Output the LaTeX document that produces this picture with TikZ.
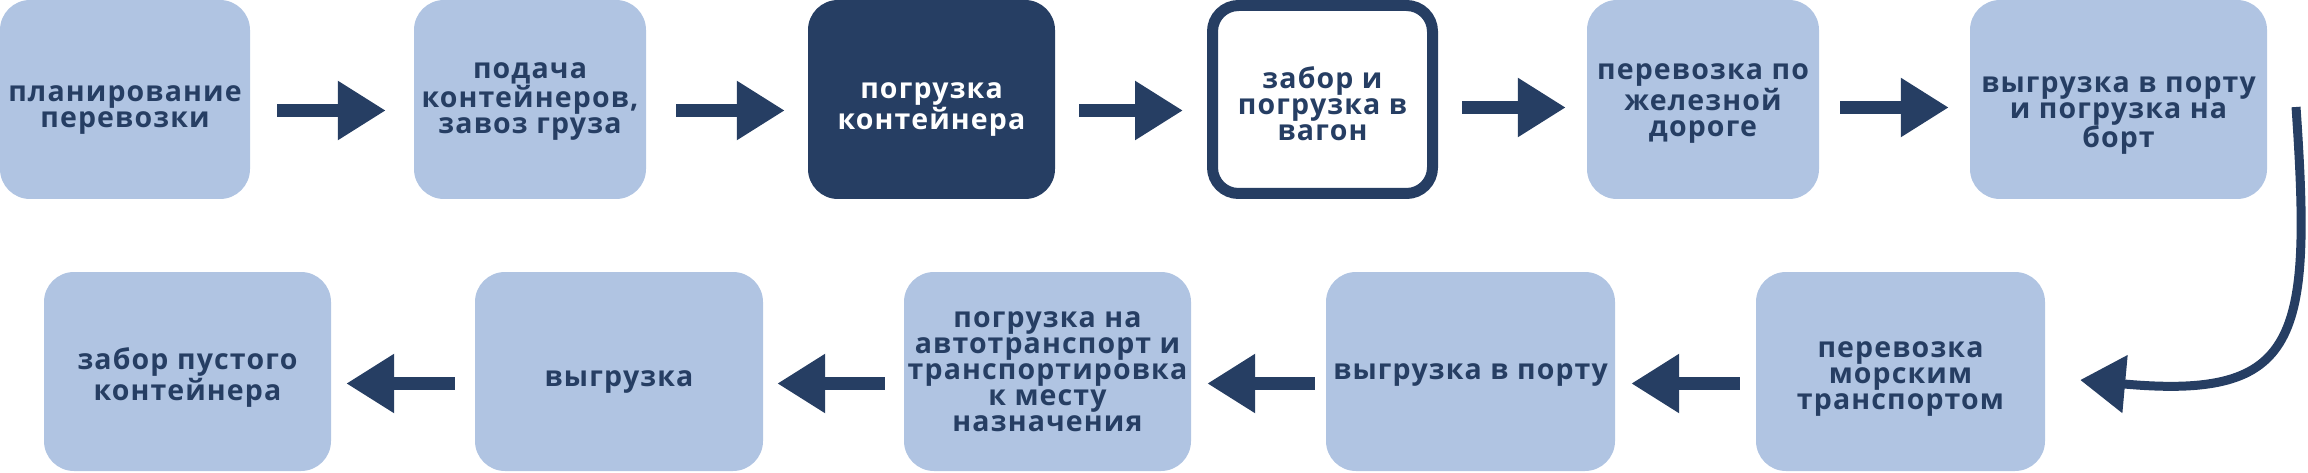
\documentclass[tikz,border=0pt]{standalone}
\usepackage{fontspec}
\setmainfont{Open Sans}[LetterSpace=4]
\usetikzlibrary{arrows.meta,calc}
\definecolor{lightbox}{RGB}{176,196,226}
\definecolor{navy}{RGB}{38,62,99}
\begin{document}
\begin{tikzpicture}[x=1pt,y=-1pt,
  box/.style={rounded corners=30pt, fill=lightbox, minimum height=199pt, inner sep=0pt},
  darkbox/.style={box, fill=navy},
  outbox/.style={box, fill=white, draw=navy, line width=11pt, minimum height=188pt, rounded corners=26pt},
  txt/.style={text=navy, align=center, inner sep=0pt, font=\fontsize{28.5}{26}\selectfont\bfseries},
  blk/.style={draw=navy, line width=13pt, -{Triangle[length=48pt,width=56pt]}},
  curv/.style={draw=navy, line width=9pt, -{Triangle[length=45pt,width=56pt]}}
]
\useasboundingbox (0,0) rectangle (2308,473);
% row 1
\node[box, minimum width=250pt] (b1) at (125,99.5) {};
\node[box, minimum width=232pt] (b2) at (530,99.5) {};
\node[darkbox, minimum width=247pt] (b3) at (931.5,99.5) {};
\node[outbox, minimum width=220pt] (b4) at (1322.5,99.5) {};
\node[box, minimum width=232pt] (b5) at (1703,99.5) {};
\node[box, minimum width=297pt] (b6) at (2118.5,99.5) {};
\node[txt] (t1) at ($(b1)+(0,10)$) {планирование\\перевозки};
\node[txt] (t2) at ($(b2)+(0,2)$) {подача\\контейнеров,\\завоз груза};
\node[txt, text=white] (t3) at ($(b3)+(0,10)$) {погрузка\\контейнера};
\node[txt] (t4) at ($(b4)+(0,4)$) {забор и\\погрузка в\\вагон};
\node[txt] (t5) at ($(b5)+(0,4)$) {перевозка по\\железной\\дороге};
\node[txt] (t6) at ($(b6)+(0,16)$) {выгрузка в порту\\и погрузка на\\борт};
% row 2
\node[box, minimum width=289pt] (b7) at (1900.5,371.5) {};
\node[box, minimum width=289pt] (b8) at (1470.5,371.5) {};
\node[box, minimum width=287pt] (b9) at (1047.5,371.5) {};
\node[box, minimum width=288pt] (b10) at (619,371.5) {};
\node[box, minimum width=287pt] (b11) at (187.5,371.5) {};
\node[txt] (t7) at ($(b7)+(0,7)$) {перевозка\\морским\\транспортом};
\node[txt] (t8) at ($(b8)+(0,3)$) {выгрузка в порту};
\node[txt] (t9) at ($(b9)+(0,0)$) {погрузка на\\автотранспорт и\\транспортировка\\к месту\\назначения};
\node[txt] (t10) at ($(b10)+(0,10)$) {выгрузка};
\node[txt] (t11) at ($(b11)+(0,6)$) {забор пустого\\контейнера};
% arrows row 1
\draw[blk] ($(b1.east)+(27,11)$) -- ($(b2.west)+(-28,11)$);
\draw[blk] ($(b2.east)+(30,11)$) -- ($(b3.west)+(-23,11)$);
\draw[blk] ($(b3.east)+(24,11)$) -- ($(b4.west)+(-24,11)$);
\draw[blk] ($(b4.east)+(24,8)$) -- ($(b5.west)+(-21,8)$);
\draw[blk] ($(b5.east)+(21,8)$) -- ($(b6.west)+(-21,8)$);
% curve
\coordinate (c0) at (2296,107);
\draw[curv] (c0) .. controls (2312,340) and (2300,400) .. ($(b7.east)+(35,8.5)$);
% arrows row 2
\draw[blk] ($(b7.west)+(-16,12)$) -- ($(b8.east)+(16,12)$);
\draw[blk] ($(b8.west)+(-11,12)$) -- ($(b9.east)+(16,12)$);
\draw[blk] ($(b9.west)+(-19,12)$) -- ($(b10.east)+(14,12)$);
\draw[blk] ($(b10.west)+(-20,12)$) -- ($(b11.east)+(15,12)$);
\end{tikzpicture}
\end{document}
